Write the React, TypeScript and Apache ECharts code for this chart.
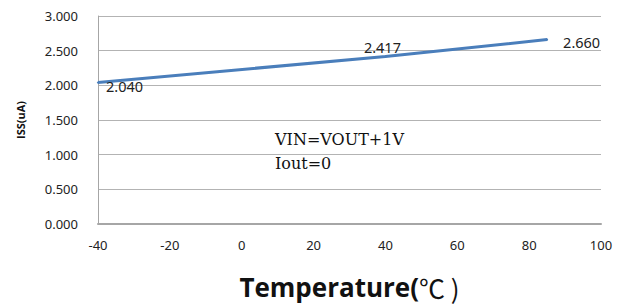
import React, { useEffect, useRef } from "react";
import * as echarts from "echarts";

const temperatures = [-40, 40, 85];
const issValues = [2.04, 2.417, 2.66];
const xTicks = { min: -40, max: 100, interval: 20 };
const yTicks = { min: 0, max: 3, interval: 0.5 };
const yAxisTitle = "ISS(uA)";
const xAxisTitleMain = "Temperature(";
const xAxisTitleUnit = "℃ )";
const noteLines = ["VIN=VOUT+1V", "Iout=0"];

export default function App() {
  const ref = useRef<HTMLDivElement>(null);
  useEffect(() => {
    if (!ref.current) return;
    const chart = echarts.init(ref.current, null, { renderer: "svg" });
    const labelStyles = [
      { position: "right", offset: [2, 3] },
      { position: "top", offset: [-3, 4] },
      { position: "right", offset: [10, 2] },
    ];
    chart.setOption({
      animation: false,
      grid: { left: 98, right: 29, top: 16, bottom: 82 },
      xAxis: {
        type: "value",
        min: xTicks.min,
        max: xTicks.max,
        interval: xTicks.interval,
        name: `{a|${xAxisTitleMain}}{b|${xAxisTitleUnit}}`,
        nameLocation: "middle",
        nameGap: 50,
        nameTextStyle: {
          rich: {
            a: {
              fontFamily: "Open Sans",
              fontWeight: "bold",
              fontSize: 26,
              color: "#111",
            },
            b: {
              fontFamily: "Noto Sans CJK SC",
              fontWeight: "normal",
              fontSize: 26,
              color: "#111",
            },
          },
        },
        axisLine: { show: true, onZero: false, lineStyle: { color: "#a6a6a6", width: 2 } },
        axisTick: { show: false },
        splitLine: { show: false },
        axisLabel: {
          fontFamily: "Noto Sans",
          fontSize: 13,
          color: "#222",
          margin: 14,
        },
      },
      yAxis: {
        type: "value",
        min: yTicks.min,
        max: yTicks.max,
        interval: yTicks.interval,
        name: yAxisTitle,
        nameLocation: "middle",
        nameRotate: 90,
        nameGap: 72,
        nameTextStyle: {
          fontFamily: "Open Sans",
          fontWeight: "bold",
          fontSize: 11,
          color: "#111",
        },
        axisLine: { show: true, onZero: false, lineStyle: { color: "#a6a6a6", width: 1 } },
        axisTick: { show: false },
        splitLine: { show: true, lineStyle: { color: "#b3b3b3", width: 1 } },
        axisLabel: {
          fontFamily: "Noto Sans",
          fontSize: 13,
          color: "#222",
          margin: 20,
          formatter: (v: number) => v.toFixed(3),
        },
      },
      series: [
        {
          type: "line",
          data: temperatures.map((t, i) => ({
            value: [t, issValues[i]],
            label: {
              show: true,
              ...labelStyles[i],
              formatter: issValues[i].toFixed(3),
              fontFamily: "Noto Sans",
              fontSize: 14.5,
              color: "#222",
            },
          })),
          showSymbol: true,
          symbol: "circle",
          symbolSize: 2,
          itemStyle: { color: "#4a7ebb" },
          lineStyle: { color: "#4a7ebb", width: 3 },
        },
      ],
      graphic: noteLines.map((txt, i) => ({
        type: "text",
        left: 275,
        top: 131 + i * 24,
        style: {
          text: txt,
          fontFamily: "DejaVu Serif",
          fontSize: 16,
          fill: "#111",
        },
      })),
    });
    return () => chart.dispose();
  }, []);
  return (
    <div
      ref={ref}
      style={{ position: "absolute", left: 0, top: 0, width: 630, height: 306 }}
    />
  );
}
